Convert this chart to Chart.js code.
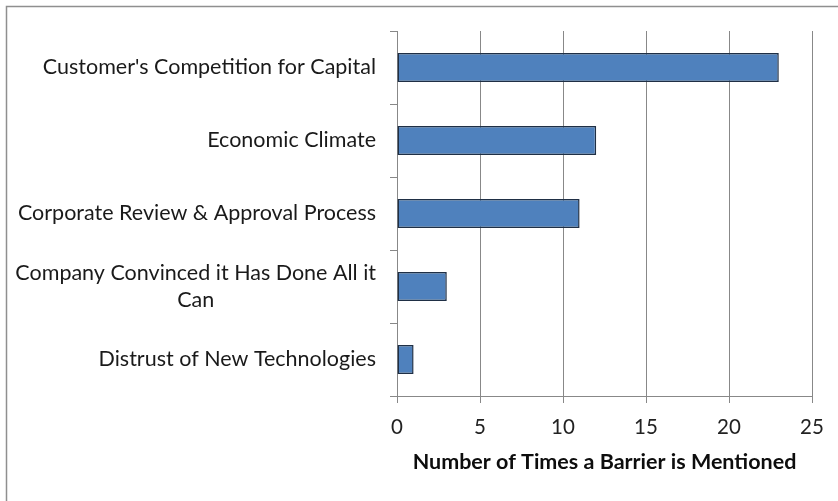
<!DOCTYPE html>
<html>
<head>
<meta charset="utf-8">
<script src="https://cdn.jsdelivr.net/npm/chart.js@4"></script>
<style>
html,body{margin:0;padding:0;background:#fff;}
canvas{display:block;}
</style>
</head>
<body>
<canvas id="c" width="838" height="501"></canvas>
<script>
const categories = [
  "Customer's Competition for Capital",
  "Economic Climate",
  "Corporate Review & Approval Process",
  ["Company Convinced it Has Done All it", "Can"],
  "Distrust of New Technologies"
];
const values = [23, 12, 11, 3, 1];
const xAxisTitle = "Number of Times a Barrier is Mentioned";
const xMin = 0, xMax = 25, xStep = 5;

const FONT = "Lato, 'Open Sans', sans-serif";

const frame = {
  id: 'frame',
  beforeDraw(chart) {
    const ctx = chart.ctx;
    ctx.save();
    ctx.fillStyle = '#fff';
    ctx.fillRect(0, 0, chart.width, chart.height);
    ctx.strokeStyle = '#8f8f8f';
    ctx.lineWidth = 1.5;
    ctx.beginPath();
    ctx.moveTo(6.5, chart.height);
    ctx.lineTo(6.5, 6.5);
    ctx.lineTo(chart.width, 6.5);
    ctx.stroke();
    ctx.restore();
  }
};

const catLabels = {
  id: 'catLabels',
  afterDraw(chart) {
    const ctx = chart.ctx;
    const ys = chart.scales.y;
    const right = 376;
    const lh = 27;
    ctx.save();
    ctx.font = "21.5px " + FONT;
    ctx.fillStyle = '#1a1a1a';
    ctx.textAlign = 'center';
    ctx.textBaseline = 'middle';
    categories.forEach((lab, i) => {
      const lines = Array.isArray(lab) ? lab : [lab];
      const widest = Math.max(...lines.map(l => ctx.measureText(l).width));
      const cy = ys.getPixelForValue(i);
      lines.forEach((l, j) => {
        ctx.fillText(l, right - widest / 2, cy + (j - (lines.length - 1) / 2) * lh);
      });
    });
    ctx.restore();
  }
};

new Chart(document.getElementById('c'), {
  type: 'bar',
  data: {
    labels: categories,
    datasets: [{
      data: values,
      backgroundColor: '#4f81bd',
      borderColor: '#1f2f45',
      borderWidth: 1.5,
      borderSkipped: false,
      categoryPercentage: 1,
      barPercentage: 0.4
    }]
  },
  options: {
    indexAxis: 'y',
    responsive: false,
    animation: false,
    layout: { padding: { top: 31, right: 26, left: 0, bottom: 0 } },
    plugins: {
      legend: { display: false },
      tooltip: { enabled: false }
    },
    scales: {
      y: {
        afterFit(s) { s.width = 397; },
        grid: {
          offset: true,
          drawOnChartArea: false,
          drawTicks: true,
          tickLength: 7,
          color: '#888'
        },
        border: { display: true, color: '#888', width: 1 },
        ticks: { display: false }
      },
      x: {
        min: xMin,
        max: xMax,
        afterFit(s) { s.height = 105; },
        grid: {
          color: '#888',
          tickLength: 7,
          drawTicks: true
        },
        border: { display: true, color: '#888', width: 1 },
        ticks: {
          stepSize: xStep,
          color: '#222',
          padding: 12,
          font: { family: FONT, size: 20.5 }
        },
        title: {
          display: true,
          text: xAxisTitle,
          color: '#0d0d0d',
          font: { family: FONT, size: 21.5, weight: 'bold' },
          padding: { top: 0, bottom: 26 }
        }
      }
    }
  },
  plugins: [frame, catLabels]
});
</script>
</body>
</html>
